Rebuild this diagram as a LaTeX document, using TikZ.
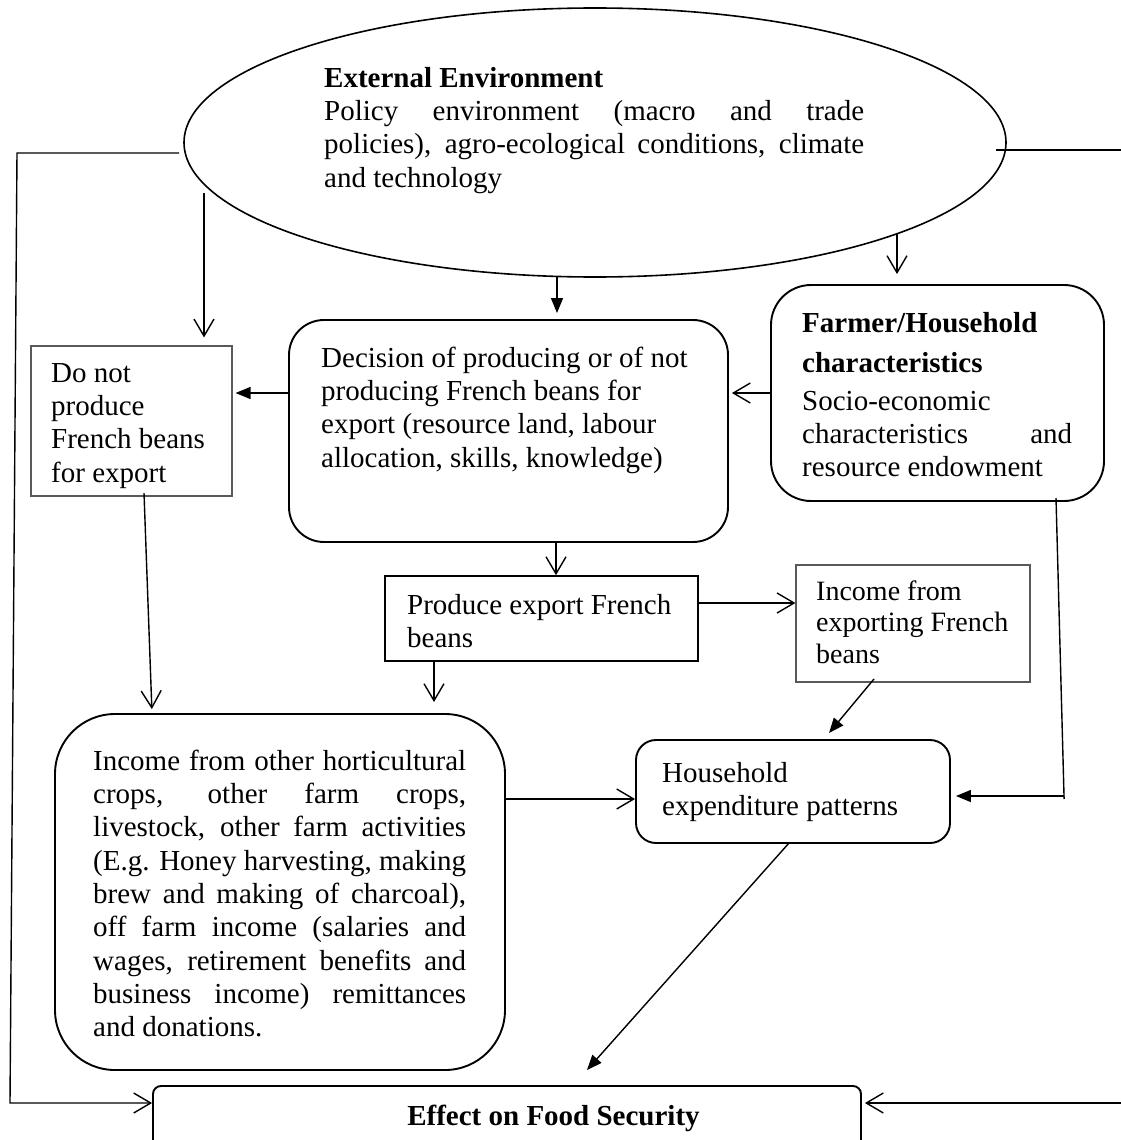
\documentclass[tikz,border=0pt]{standalone}
\usepackage{fontspec}
\setmainfont{Liberation Serif}
\usetikzlibrary{arrows.meta,shapes.geometric}
\newcommand{\tx}{\fontsize{29}{33.3}\selectfont}
\newcommand{\txs}{\fontsize{28}{31.7}\selectfont}
\newcommand{\jl}[2]{\hbox to #1pt{\spaceskip=0.25em plus 3em\relax #2}}
\tikzset{
  conn/.style={line width=1.4pt},
  oa/.style={conn,-{Straight Barb[length=17pt,width=20pt,line width=1.4pt]}},
  fa/.style={conn,-{Triangle[length=15pt,width=12pt]}},
  rbox/.style={draw,line width=1.9pt,inner sep=0pt},
  gbox/.style={draw=black!65,line width=1.1pt,inner sep=0pt},
  txt/.style={inner sep=0pt,anchor=north west,align=left,font=\tx},
}
\begin{document}
\begin{tikzpicture}[x=1pt,y=-1pt]
\useasboundingbox (0,0) rectangle (1120,1140);
\fill[white] (0,0) rectangle (1120,1140);

% shapes
\node[draw,ellipse,line width=1.6pt,inner sep=0pt,minimum width=822pt,minimum height=269pt] (ell) at (595,142.5) {};
\node[gbox,minimum width=201pt,minimum height=150pt] (dnp) at (131.5,421) {};
\node[rbox,rounded corners=35pt,minimum width=439pt,minimum height=222pt] (dec) at (508.5,431) {};
\node[rbox,rounded corners=40pt,minimum width=333pt,minimum height=216pt] (far) at (937.5,393) {};
\node[rbox,rounded corners=0pt,line width=1.7pt,minimum width=313pt,minimum height=85pt] (prod) at (541.5,618.5) {};
\node[gbox,minimum width=234pt,minimum height=117pt] (exp) at (913,623.5) {};
\node[rbox,rounded corners=60pt,minimum width=450pt,minimum height=356pt] (inc) at (280,892) {};
\node[rbox,rounded corners=20pt,minimum width=314pt,minimum height=103pt] (hh) at (793,791.5) {};
\node[rbox,rounded corners=8pt,minimum width=708pt,minimum height=84pt] (eff) at (507,1128) {};

% texts
\node[txt] (ellT) at (324,63.69) {\strut\textbf{External Environment}\\
\jl{540}{Policy environment (macro and trade}\\
\jl{540}{policies), agro-ecological conditions, climate}\\
and technology};
\node[txt] (dnpT) at (51,358.69) {\strut Do not\\produce\\French beans\\for export};
\node[txt] (decT) at (321,343.69) {\strut Decision of producing or of not\\producing French beans for\\export (resource land, labour\\allocation, skills, knowledge)};
\node[txt] (farT) at (802,308.69) {\strut\textbf{Farmer/Household}\\[6.7pt]
\textbf{characteristics}\\[4.7pt]
Socio-economic\\
\jl{270}{characteristics and}\\
resource endowment};
\node[txt] (prodT) at (407,590.69) {\strut Produce export French\\beans};
\node[txt,font=\txs] (expT) at (816,577.8) {\strut Income from\\exporting French\\beans};
\node[txt] (incT) at (93,746.69) {\strut\jl{373}{Income from other horticultural}\\
\jl{373}{crops, other farm crops,}\\
\jl{373}{livestock, other farm activities}\\
\jl{373}{(E.g. Honey harvesting, making}\\
\jl{373}{brew and making of charcoal),}\\
\jl{373}{off farm income (salaries and}\\
\jl{373}{wages, retirement benefits and}\\
\jl{373}{business income) remittances}\\
and donations.};
\node[txt] (hhT) at (662,758.69) {\strut Household\\expenditure patterns};
\node[inner sep=0pt,anchor=base,font=\tx\bfseries] (effT) at (553.5,1125) {Effect on Food Security};

% connector points
\coordinate (l1) at (179,153);
\coordinate (l2) at (17,153);
\coordinate (l3) at (10,1103);
\coordinate (r1) at (996,150);
\coordinate (r2) at (1123,150);
\coordinate (r3) at (1123,1103);
\coordinate (c1) at (557,277);
\coordinate (c2) at (897,234);
\coordinate (c2b) at (204,193);
\coordinate (c3) at (556,0);
\coordinate (c4) at (144,493);
\coordinate (c5) at (152,0);
\coordinate (c6) at (434,0);
\coordinate (c7) at (0,603);
\coordinate (c8) at (874,679);
\coordinate (c9) at (829,733);
\coordinate (c10) at (1056,498);
\coordinate (c11) at (1064,796);
\coordinate (c12) at (1064.1,799);
\coordinate (c13) at (0,799);
\coordinate (c14) at (789,843);
\coordinate (c15) at (587,1070);

% connectors
\draw[oa] (l1) -- (l2) -- (l3) -- (l3 -| eff.west);
\draw[oa,shorten >=3pt] (r1) -- (r2) -- (r3) -- (r3 -| eff.east);
\draw[fa,shorten >=6pt] (c1) -- (c1 |- dec.north);
\draw[oa,shorten >=10pt] (c2) -- (c2 |- far.north);
\draw[oa,shorten >=8pt] (c2b) -- (c2b |- dnp.north);
\draw[oa,shorten >=3pt] (far.west) -- (far.west -| dec.east);
\draw[fa,shorten >=3pt] (far.west -| dec.west) -- (far.west -| dnp.east);
\draw[oa] (c3 |- dec.south) -- (c3 |- prod.north);
\draw[oa,shorten >=4pt] (c4) -- (c5 |- inc.north);
\draw[oa,shorten >=11pt] (c6 |- prod.south) -- (c6 |- inc.north);
\draw[oa] (c7 -| prod.east) -- (c7 -| exp.west);
\draw[fa] (c8) -- (c9);
\draw[conn] (c10) -- (c12);
\draw[fa,shorten >=5pt] (c11) -- (c11 -| hh.east);
\draw[oa] (c13 -| inc.east) -- (c13 -| hh.west);
\draw[fa] (c14) -- (c15);
\end{tikzpicture}
\end{document}
